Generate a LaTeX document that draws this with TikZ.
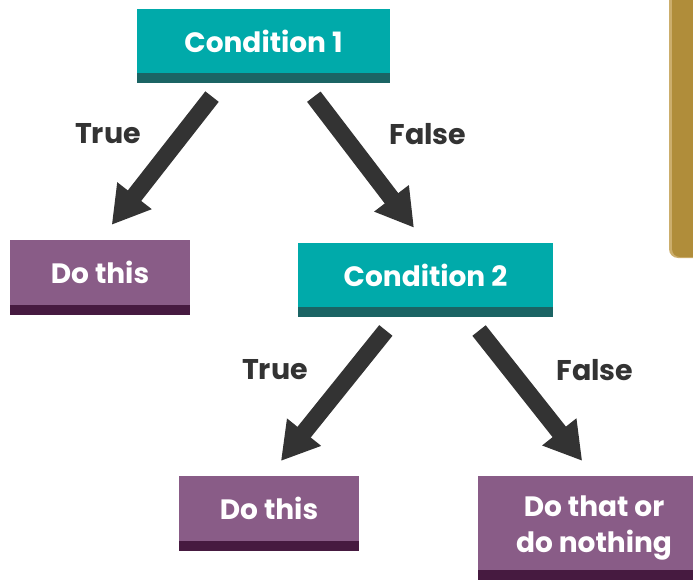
\documentclass[tikz,border=0pt]{standalone}
\usepackage{fontspec}
\setmainfont{Poppins}
\usetikzlibrary{arrows.meta}

\definecolor{condteal}{RGB}{0,170,170}
\definecolor{conddark}{RGB}{27,100,100}
\definecolor{actpurple}{RGB}{137,92,135}
\definecolor{actdark}{RGB}{70,26,64}
\definecolor{arrowgray}{RGB}{51,51,51}
\definecolor{notegold}{RGB}{176,141,58}
\definecolor{noteedge}{RGB}{204,174,108}

\begin{document}
\begin{tikzpicture}[x=1pt,y=-1pt,
  boxtext/.style={text=white,inner sep=0pt,font=\bfseries\fontsize{28}{36}\selectfont},
  cond/.style={boxtext,fill=condteal,minimum height=64pt},
  act/.style={boxtext,fill=actpurple,minimum height=65pt,minimum width=180pt},
  bigarrow/.style={draw=arrowgray,line width=17pt,-{Triangle[width=41pt,length=37pt]},shorten <=17pt,shorten >=19pt},
  branch/.style={text=arrowgray,font=\bfseries\fontsize{28.5}{32}\selectfont}]

\useasboundingbox (0,0) rectangle (693,580);
\clip (0,0) rectangle (693,580);

% side note, cut off at the edge
\fill[noteedge,rounded corners=9pt] (669,-20) rectangle (740,258);
\fill[notegold,rounded corners=8pt] (672,-20) rectangle (740,257);

\node[cond,minimum width=253pt] (c1) at (263.5,41)  {Condition 1};
\node[act]                      (d1) at (100,272.5) {Do this};
\node[cond,minimum width=255pt] (c2) at (425.5,275) {Condition 2};
\node[act]                      (d2) at (269,508.5) {Do this};
\node[act,minimum width=232pt,minimum height=94pt] (d3) at (594,523) {};
\node[boxtext,align=center] (d3text) at ([yshift=-5pt]d3.center) {Do that or\\do nothing};

\foreach \n in {c1,c2}
  \fill[conddark] (\n.south west) rectangle ([yshift=-10pt]\n.south east);
\foreach \n in {d1,d2,d3}
  \fill[actdark] (\n.south west) rectangle ([yshift=-10pt]\n.south east);

\path
([xshift=-41pt,yshift=-10pt]c1.south) edge[bigarrow] (d1.north)
([xshift=40pt,yshift=-10pt]c1.south)  edge[bigarrow] (c2.north)
([xshift=-29pt,yshift=-10pt]c2.south) edge[bigarrow] (d2.north)
([xshift=43pt,yshift=-10pt]c2.south)  edge[bigarrow] (d3.north)
;

\node[branch] (t1) at (108,134) {True};
\node[branch] (f1) at (428,134) {False};
\node[branch] (t2) at (275,370) {True};
\node[branch] (f2) at (595,370) {False};
\end{tikzpicture}
\end{document}
